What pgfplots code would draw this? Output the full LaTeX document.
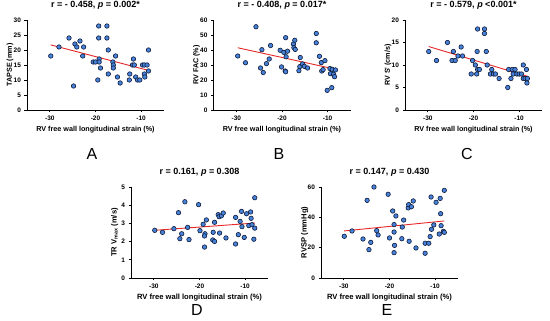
\documentclass[border=0pt]{standalone}
\usepackage{pgfplots}
\pgfplotsset{compat=1.18}
\usepackage{fontspec}
\setmainfont{Liberation Sans}
\definecolor{ptfill}{RGB}{70,130,218}
\definecolor{ptedge}{RGB}{15,25,55}
\definecolor{fitred}{RGB}{230,40,40}
\pgfplotsset{
  panel/.style={
    scale only axis, width=137pt, height=90pt,
    xmin=-35, xmax=-5, xtick={-30,-20,-10},
    axis lines=left, axis line style={-, line width=0.9pt, black},
    tick align=outside, major tick length=2.5pt,
    tick style={line width=0.8pt, black},
    /pgf/number format/assume math mode=true,
    ticklabel style={font=\bfseries\fontsize{6.5}{7}\selectfont},
    xlabel={RV free wall longitudinal strain (\%)},
    xlabel style={font=\bfseries\fontsize{7.2}{8}\selectfont, at={(axis description cs:0.5,-0.222)}, anchor=center},
    ylabel style={font=\bfseries\fontsize{7.2}{8}\selectfont, at={(axis description cs:-0.124,0.5)}, anchor=center},
    title style={font=\bfseries\fontsize{9}{10}\selectfont, at={(axis description cs:0.5,1.1)}, anchor=center},
    clip=false,
  },
  row2/.style={height=91pt,
    xlabel style={font=\bfseries\fontsize{7.6}{8}\selectfont, at={(axis description cs:0.5,-0.215)}},
    ylabel style={font=\bfseries\fontsize{7.6}{8}\selectfont, at={(axis description cs:-0.12,0.5)}},
    title style={at={(axis description cs:0.5,1.1)}},
  },
  pts/.style={only marks, mark=*, mark size=2.25pt, mark options={fill=ptfill, draw=ptedge, line width=0.6pt}},
  fit/.style={no marks, color=fitred, line width=0.9pt},
}
\begin{document}
\begin{tikzpicture}
\useasboundingbox (0,0) rectangle (550pt,321pt);
% A
\begin{axis}[panel, at={(27pt,211pt)}, anchor=south west, ymin=0, ymax=30, ytick={0,5,...,30},
  ylabel={TAPSE (mm)}, title={r = - 0.458, \textit{p} = 0.002*}]
\addplot[fit] coordinates {(-29.8,21.7) (-8.4,13.2)};
\addplot[pts] coordinates {(-29.8,18) (-28,21) (-25.8,24) (-24.8,8) (-24.5,22) (-24.1,21) (-23.4,23) (-22.6,21) (-22.8,18) (-20.5,16) (-20,16) (-19.5,10) (-19.3,28) (-19.3,24) (-19.2,17) (-19.2,16) (-18.9,14) (-17.5,28) (-17.5,24) (-17.2,20) (-17.2,12) (-16.2,16) (-16.1,15) (-16.1,14) (-15.6,18) (-15.2,11) (-14.6,9) (-12.6,10) (-12.5,12) (-11.9,15) (-11.7,17) (-11.5,15) (-11.2,11) (-10.8,10) (-10.3,10) (-9.7,15) (-9.3,12) (-9.2,11) (-9.3,15) (-8.7,15) (-8.4,20) (-8.4,13)};
\end{axis}
% B
\begin{axis}[panel, at={(213.5pt,211pt)}, anchor=south west, ymin=0, ymax=60, ytick={0,10,...,60},
  ylabel={RV FAC (\%)}, title={r = - 0.408, \textit{p} = 0.017*}]
\addplot[fit] coordinates {(-29.7,41.5) (-8.3,27.2)};
\addplot[pts] coordinates {(-29.7,36) (-28,31.5) (-25.7,55.5) (-24.7,28) (-24.4,40.2) (-24.1,25) (-23.4,30.9) (-22.8,34) (-22.5,43) (-20.4,39.8) (-20.1,28.7) (-19.6,38.4) (-19.3,26) (-19.2,48.2) (-19.2,25.5) (-19.1,35.5) (-18.8,39.2) (-17.5,44) (-17.4,41.6) (-17.2,46.5) (-17.1,40.4) (-16.3,26.2) (-16.1,28.9) (-16,35) (-15.5,30.7) (-15.1,29.1) (-14.4,28) (-12.5,51) (-12.5,44.8) (-11.8,35.8) (-11.4,31.6) (-11.3,26) (-11,26.9) (-10.6,32.9) (-10.1,13.1) (-9.5,27.6) (-9.4,24.2) (-9.1,14.9) (-9,27.1) (-8.7,23.8) (-8.5,22.2) (-8.3,26.7)};
\end{axis}
% C
\begin{axis}[panel, at={(405pt,211pt)}, anchor=south west, ymin=0, ymax=20, ytick={0,5,...,20},
  ylabel={RV S\textquotesingle{} (cm/s)}, title={r = - 0.579, \textit{p} <0.001*}]
\addplot[fit] coordinates {(-29.8,14.1) (-8.2,7.5)};
\addplot[pts] coordinates {(-29.8,13) (-28.1,11) (-25.7,15) (-24.4,13) (-24.7,11) (-24,11) (-23.4,12) (-22.7,14) (-22.4,12) (-20.5,8) (-20.2,11) (-19.6,10) (-19.3,8) (-19.2,13) (-19.1,18) (-19.1,9) (-18.7,9) (-17.6,18) (-17.6,17) (-17.2,13) (-17,10) (-16.3,8) (-16,9) (-15.6,8) (-15.2,8) (-14.4,7) (-12.5,5) (-12.3,9) (-11.8,7) (-11.5,9) (-11.3,8) (-10.9,9) (-10.5,8) (-10,8) (-9.5,8) (-9.1,10) (-9.1,7) (-8.7,7) (-8.4,9) (-8.2,7) (-8.3,6)};
\end{axis}
% D
\begin{axis}[panel, row2, at={(131pt,43pt)}, anchor=south west, ymin=0, ymax=5, ytick={0,1,...,5},
  ylabel={TR V\textsubscript{max} (m/s)}, title={r = 0.161, \textit{p} = 0.308}]
\addplot[fit] coordinates {(-29.8,2.62) (-7.9,3.02)};
\addplot[pts] coordinates {(-29.8,2.62) (-28.1,2.51) (-25.6,2.71) (-24.6,3.59) (-24.3,2.16) (-23.9,2.43) (-23.2,4.19) (-22.6,2.78) (-22.3,2.11) (-20.2,4.03) (-19.9,2.6) (-19.2,2.95) (-18.8,2.43) (-18.9,2.31) (-18.9,1.7) (-18.5,3.19) (-17.1,2.09) (-17,2.51) (-16.7,3.06) (-16.7,2.01) (-15.6,2.47) (-15.9,3.48) (-15.7,3.37) (-15.2,3.42) (-14.8,3.57) (-14.2,2.2) (-12.1,3.33) (-12.1,1.87) (-11.5,2.38) (-11.1,3.11) (-10.8,3.66) (-10.7,2.82) (-10.2,2.23) (-9.7,3.53) (-9.2,2.88) (-8.8,3.63) (-8.7,3.28) (-8.5,2.93) (-7.9,4.41) (-8.1,2.13) (-7.9,2.74)};
\end{axis}
% E
\begin{axis}[panel, row2, at={(321pt,43pt)}, anchor=south west, ymin=0, ymax=60, ytick={0,20,40,60},
  ylabel={RVSP (mmHg)}, title={r = 0.147, \textit{p} = 0.430}]
\addplot[fit] coordinates {(-30,31) (-8,37.6)};
\addplot[pts] coordinates {(-29.9,27.5) (-28.2,31) (-25.8,25.7) (-24.9,51.2) (-24.5,18.7) (-24.1,23.5) (-23.4,60) (-22.8,31.2) (-22.5,28.4) (-20.3,55.2) (-20,26.4) (-19.3,44.2) (-19,35.2) (-19,30.3) (-18.9,21.5) (-19,16.7) (-18.6,40.9) (-17.2,33.6) (-16.9,38.2) (-17.3,25.9) (-15.9,46.2) (-15.8,48.4) (-15.7,24.2) (-15.2,47) (-14.8,50.8) (-14.2,19.8) (-12.2,22.9) (-12.2,16.3) (-11.4,22.9) (-11.1,27.3) (-10.9,53.4) (-10.8,32.1) (-10.3,35) (-9.8,49.9) (-9.1,29) (-8.9,52.5) (-8.8,42.4) (-8.7,34.5) (-8.2,30.8) (-8,57.8) (-8,30.1)};
\end{axis}
\node[font=\fontsize{16}{16}\selectfont] at (92pt,167pt) {A};
\node[font=\fontsize{16}{16}\selectfont] at (279pt,167pt) {B};
\node[font=\fontsize{16}{16}\selectfont] at (467pt,167pt) {C};
\node[font=\fontsize{16}{16}\selectfont] at (197pt,11pt) {D};
\node[font=\fontsize{16}{16}\selectfont] at (387pt,11pt) {E};
\end{tikzpicture}
\end{document}
